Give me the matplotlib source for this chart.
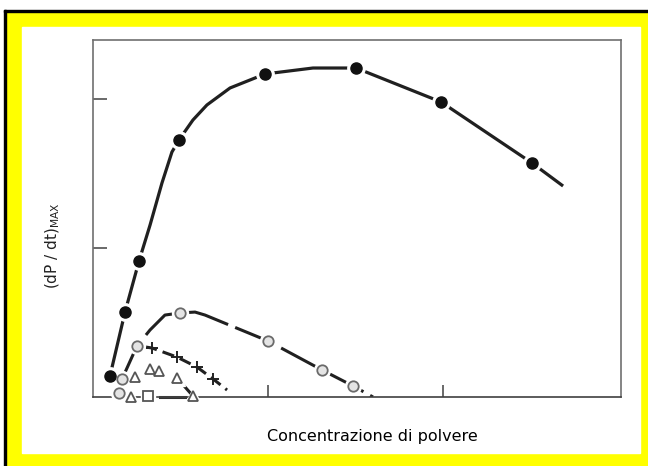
import numpy as np
import matplotlib
matplotlib.use("Agg")
import matplotlib.pyplot as plt
from matplotlib.patches import Rectangle

OUTPUT_PLOT_FILE = "out.png"

# Curva superiore (cerchi pieni)
piena_x = [0.097, 0.183, 0.263, 0.491, 0.983, 1.503, 1.989, 2.509]
piena_y = [0.141, 0.570, 0.913, 1.725, 2.168, 2.208, 1.980, 1.570]
# tracciato della curva
piena_curva_x = [0.097, 0.183, 0.263, 0.326, 0.394, 0.451, 0.491, 0.571, 0.651,
                 0.783, 0.983, 1.257, 1.503, 1.989, 2.509, 2.686]
piena_curva_y = [0.141, 0.570, 0.913, 1.154, 1.436, 1.644, 1.725, 1.859, 1.960,
                 2.074, 2.168, 2.208, 2.208, 1.980, 1.570, 1.416]

# Cerchi vuoti
vuota_x = [0.166, 0.251, 0.497, 1.000, 1.309, 1.486]
vuota_y = [0.121, 0.342, 0.564, 0.376, 0.181, 0.074]
vuota_curva_x = [0.166, 0.251, 0.326, 0.411, 0.497, 0.583, 0.640, 1.000, 1.309, 1.486, 1.600]
vuota_curva_y = [0.121, 0.342, 0.450, 0.550, 0.564, 0.570, 0.550, 0.376, 0.181, 0.074, 0.000]

# Croci
croce_x = [0.337, 0.480, 0.594, 0.686]
croce_y = [0.329, 0.268, 0.201, 0.121]
croce_curva_x = [0.297, 0.337, 0.480, 0.594, 0.686, 0.766]
croce_curva_y = [0.336, 0.329, 0.268, 0.201, 0.121, 0.047]

# Triangoli
tri_x = [0.240, 0.326, 0.377, 0.480, 0.571, 0.217]
tri_y = [0.134, 0.188, 0.174, 0.128, 0.007, 0.000]
tri_curva_x = [0.480, 0.571]
tri_curva_y = [0.128, 0.007]

# Riga in basso: cerchio e quadrato
basso_cerchio_x = [0.149]
basso_cerchio_y = [0.027]
quadrato_x = [0.314]
quadrato_y = [0.007]
basso_linea_x = [0.383, 0.526]
basso_linea_y = [0.000, 0.000]

X_TICKS = [1, 2]
Y_TICKS = [1, 2]


def draw_frame(fig):
    W, H = 648.0, 466.0
    fig.patches.append(Rectangle((6 / W, 0), 642 / W, (H - 12) / H,
                                 transform=fig.transFigure, color="#ffff00", zorder=-10))
    fig.patches.append(Rectangle((22 / W, 13 / H), 618 / W, 426 / H,
                                 transform=fig.transFigure, color="white", zorder=-9))
    # linee nere a sinistra e in alto
    fig.patches.append(Rectangle((4 / W, 0), 2 / W, (H - 10) / H,
                                 transform=fig.transFigure, color="black", zorder=-8))
    fig.patches.append(Rectangle((4 / W, (H - 12) / H), 644 / W, 2 / H,
                                 transform=fig.transFigure, color="black", zorder=-8))


def plot_chart():
    fig = plt.figure(figsize=(6.48, 4.66), dpi=100)
    draw_frame(fig)

    W, H = 648.0, 466.0
    ax = fig.add_axes([93 / W, (H - 397) / H, (621 - 93) / W, (397 - 40) / H])
    ax.set_xlim(0, 3.017)
    ax.set_ylim(0, 2.396)

    for s in ax.spines.values():
        s.set_color("#707070")
        s.set_linewidth(1.2)
    ax.spines["bottom"].set_color("#404040")
    ax.set_xticks(X_TICKS)
    ax.set_yticks(Y_TICKS)
    ax.set_xticklabels([])
    ax.set_yticklabels([])
    ax.tick_params(axis="x", direction="in", length=9, width=1.2, color="#505050")
    ax.tick_params(axis="y", direction="in", length=10, width=1.2, color="#505050")

    # curve (le interruzioni vengono dagli aloni bianchi dei marcatori)
    ax.plot(piena_curva_x, piena_curva_y, color="#202020", lw=2.3,
            solid_capstyle="butt", zorder=2)
    ax.plot(vuota_curva_x, vuota_curva_y, color="#202020", lw=2.2,
            linestyle=(0, (14, 2.5)), zorder=2)
    ax.plot(croce_curva_x, croce_curva_y, color="#202020", lw=2.2,
            linestyle=(0, (4, 2)), zorder=2)
    ax.plot(tri_curva_x, tri_curva_y, color="#202020", lw=2.2, zorder=2)
    ax.plot(basso_linea_x, basso_linea_y, color="#303030", lw=2.2, zorder=2, clip_on=False)

    # aloni bianchi attorno ai marcatori
    halo = dict(linestyle="none", marker="o", color="white", zorder=3, clip_on=False)
    ax.plot(piena_x, piena_y, markersize=12.5, **halo)
    ax.plot(vuota_x + basso_cerchio_x, vuota_y + basso_cerchio_y, markersize=11.5, **halo)
    ax.plot(tri_x, tri_y, linestyle="none", marker="^", color="white",
            markersize=11, zorder=3, clip_on=False)
    ax.plot(quadrato_x, quadrato_y, linestyle="none", marker="s", color="white",
            markersize=10, zorder=3, clip_on=False)

    # marcatori
    ax.plot(piena_x, piena_y, linestyle="none", marker="o", markersize=8,
            color="#111111", zorder=4, clip_on=False)
    ax.plot(vuota_x + basso_cerchio_x, vuota_y + basso_cerchio_y, linestyle="none",
            marker="o", markersize=7.5, markerfacecolor="#e4e4e4",
            markeredgecolor="#6a6a6a", markeredgewidth=1.3, zorder=4, clip_on=False)
    ax.plot(croce_x, croce_y, linestyle="none", marker="+", markersize=9,
            markeredgewidth=1.4, color="#222222", zorder=4)
    ax.plot(tri_x, tri_y, linestyle="none", marker="^", markersize=7.5,
            markerfacecolor="white", markeredgecolor="#555555",
            markeredgewidth=1.3, zorder=4, clip_on=False)
    ax.plot(quadrato_x, quadrato_y, linestyle="none", marker="s", markersize=6.5,
            markerfacecolor="white", markeredgecolor="#555555",
            markeredgewidth=1.3, zorder=4, clip_on=False)

    fig.text(372 / W, (H - 437) / H, "Concentrazione di polvere", fontsize=11.5,
             ha="center", va="center", color="black")
    fig.text(53 / W, (H - 246) / H, r"(dP / dt)$_{\mathrm{MAX}}$", fontsize=11,
             rotation=90, ha="center", va="center", color="#222222")

    fig.savefig(OUTPUT_PLOT_FILE, dpi=100)


def main():
    plot_chart()


if __name__ == "__main__":
    main()
